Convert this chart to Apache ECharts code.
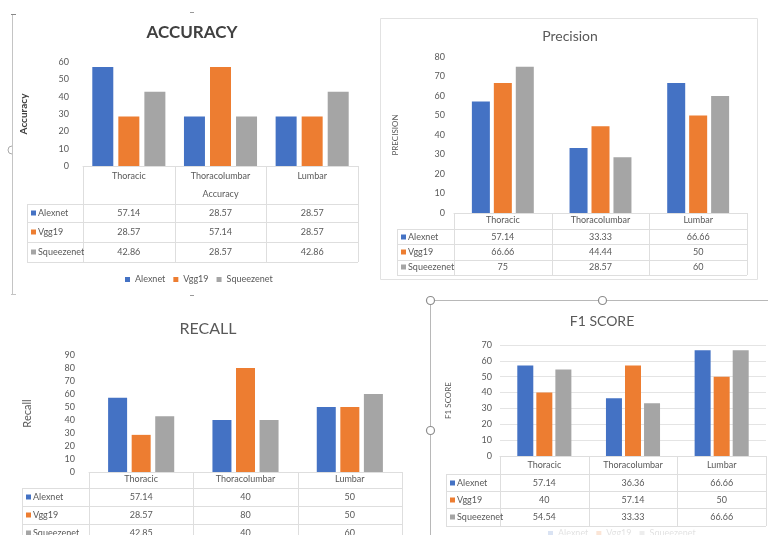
<!DOCTYPE html>
<html>
<head>
<meta charset="utf-8">
<title>Spine region classification metrics</title>
<script src="https://cdn.jsdelivr.net/npm/echarts@6/dist/echarts.min.js"></script>
<style>
  html, body { margin: 0; padding: 0; background: #ffffff; }
  #chart { width: 768px; height: 535px; }
</style>
</head>
<body>
<div id="chart"></div>
<script>
// ---- data ----
const categories = ['Thoracic', 'Thoracolumbar', 'Lumbar'];
const models = ['Alexnet', 'Vgg19', 'Squeezenet'];

const accuracyAlexnet = [57.14, 28.57, 28.57];
const accuracyVgg19 = [28.57, 57.14, 28.57];
const accuracySqueezenet = [42.86, 28.57, 42.86];

const precisionAlexnet = [57.14, 33.33, 66.66];
const precisionVgg19 = [66.66, 44.44, 50];
const precisionSqueezenet = [75, 28.57, 60];

const recallAlexnet = [57.14, 40, 50];
const recallVgg19 = [28.57, 80, 50];
const recallSqueezenet = [42.85, 40, 60];

const f1Alexnet = [57.14, 36.36, 66.66];
const f1Vgg19 = [40, 57.14, 50];
const f1Squeezenet = [54.54, 33.33, 66.66];

const accuracyTicks = [0, 60, 10];   // min, max, step
const precisionTicks = [0, 80, 10];
const recallTicks = [0, 90, 10];
const f1Ticks = [0, 70, 10];

// ---- styling ----
const FONT = 'Lato, "Open Sans", sans-serif';
const TEXT = '#595959';
const LINE = '#dedede';
const COLORS = ['#4472C4', '#ED7D31', '#A5A5A5'];
const SMALL = 9;

// panel layout: plot rectangle, table rows and axis styling
const panels = [
  {
    title: 'ACCURACY', titleX: 192, titleY: 33, titleSize: 17, titleWeight: 'bold', titleColor: '#404040',
    yName: 'Accuracy', yNameGap: 54, yNameWeight: 'bold', yNameColor: '#404040', yNameSize: 10,
    ticks: accuracyTicks, series: [accuracyAlexnet, accuracyVgg19, accuracySqueezenet],
    left: 83, top: 62, width: 275, height: 104,
    labelMargin: 14, catMargin: 6, barWidth: 21, barGap: '24%', split: false,
    xName: 'Accuracy', xNameGap: 24,
    headerBottom: 204, rowLines: [204, 222, 242, 262], rowCenters: [213, 232, 252],
    tableLeft: 27
  },
  {
    title: 'Precision', titleX: 570, titleY: 36, titleSize: 14, titleWeight: 'normal', titleColor: TEXT,
    yName: 'PRECISION', yNameGap: 55, yNameWeight: 'normal', yNameColor: TEXT, yNameSize: 8,
    ticks: precisionTicks, series: [precisionAlexnet, precisionVgg19, precisionSqueezenet],
    left: 454, top: 57, width: 293, height: 156,
    labelMargin: 9, catMargin: 3, barWidth: 18, barGap: '22%', split: false,
    xName: '', xNameGap: 0,
    headerBottom: 229, rowLines: [229, 244, 260, 275], rowCenters: [237, 252, 267],
    tableLeft: 397
  },
  {
    title: 'RECALL', titleX: 208, titleY: 329, titleSize: 16, titleWeight: 'normal', titleColor: TEXT,
    yName: 'Recall', yNameGap: 56, yNameWeight: 'normal', yNameColor: TEXT, yNameSize: 11,
    ticks: recallTicks, series: [recallAlexnet, recallVgg19, recallSqueezenet],
    left: 89, top: 355, width: 313, height: 117,
    labelMargin: 14, catMargin: 3, barWidth: 19, barGap: '24%', split: false,
    xName: '', xNameGap: 0,
    headerBottom: 488, rowLines: [488, 506, 524, 542], rowCenters: [497, 515, 533],
    tableLeft: 22
  },
  {
    title: 'F1 SCORE', titleX: 602, titleY: 321, titleSize: 14, titleWeight: 'normal', titleColor: TEXT,
    yName: 'F1 SCORE', yNameGap: 48, yNameWeight: 'normal', yNameColor: TEXT, yNameSize: 8,
    ticks: f1Ticks, series: [f1Alexnet, f1Vgg19, f1Squeezenet],
    left: 500, top: 345, width: 266, height: 111,
    labelMargin: 8, catMargin: 5, barWidth: 16, barGap: '19%', split: true,
    xName: '', xNameGap: 0,
    headerBottom: 474, rowLines: [474, 491, 508, 526], rowCenters: [483, 500, 517],
    tableLeft: 446
  }
];

const chart = echarts.init(document.getElementById('chart'), null, { renderer: 'canvas' });

const option = {
  animation: false,
  backgroundColor: '#ffffff',
  textStyle: { fontFamily: FONT },
  legend: [
    {
      data: models, left: 125, top: 275, itemWidth: 5, itemHeight: 5, itemGap: 8, padding: 0,
      icon: 'rect', selectedMode: false,
      textStyle: { fontSize: SMALL, color: TEXT, fontFamily: FONT }
    },
    {
      data: models, left: 548, top: 529, itemWidth: 5, itemHeight: 5, itemGap: 8, padding: 0,
      icon: 'rect', selectedMode: false,
      itemStyle: { opacity: 0.2 },
      textStyle: { fontSize: SMALL, color: 'rgba(89,89,89,0.18)', fontFamily: FONT }
    }
  ],
  grid: panels.map(P => ({ left: P.left, top: P.top, width: P.width, height: P.height, containLabel: false })),
  xAxis: panels.map((P, i) => ({
    type: 'category', gridIndex: i, data: categories,
    axisLine: { show: true, lineStyle: { color: LINE } },
    axisTick: { show: false },
    axisLabel: { interval: 0, margin: P.catMargin, fontSize: SMALL, color: TEXT, fontFamily: FONT },
    name: P.xName, nameLocation: 'middle', nameGap: P.xNameGap,
    nameTextStyle: { fontSize: SMALL, color: TEXT, fontFamily: FONT }
  })),
  yAxis: panels.map((P, i) => ({
    type: 'value', gridIndex: i, min: P.ticks[0], max: P.ticks[1], interval: P.ticks[2],
    axisLine: { show: false }, axisTick: { show: false },
    axisLabel: { margin: P.labelMargin, fontSize: SMALL, color: TEXT, fontFamily: FONT },
    splitLine: { show: P.split, lineStyle: { color: '#e4e4e4', width: 1 } },
    name: P.yName, nameLocation: 'middle', nameRotate: 90, nameGap: P.yNameGap,
    nameTextStyle: { fontSize: P.yNameSize, color: P.yNameColor, fontWeight: P.yNameWeight, fontFamily: FONT }
  })),
  series: []
};

panels.forEach((P, i) => {
  P.series.forEach((arr, m) => {
    option.series.push({
      type: 'bar', name: models[m], xAxisIndex: i, yAxisIndex: i, data: arr,
      barWidth: P.barWidth, barGap: P.barGap,
      itemStyle: { color: COLORS[m] }
    });
  });
});

chart.setOption(option);

// ---- titles, data tables and frame decorations ----
const elements = [];
const line = (x1, y1, x2, y2, color, w) => elements.push({
  type: 'line', silent: true,
  shape: { x1, y1, x2, y2 },
  style: { stroke: color || LINE, lineWidth: w || 1 }
});
const text = (x, y, str, st) => elements.push({
  type: 'text', silent: true, x, y,
  style: Object.assign({ text: str, fill: TEXT, font: SMALL + 'px ' + FONT, align: 'center', verticalAlign: 'middle' }, st || {})
});

panels.forEach((P, i) => {
  text(P.titleX, P.titleY, P.title, {
    fill: P.titleColor, font: P.titleWeight + ' ' + P.titleSize + 'px ' + FONT
  });

  const axisY = P.top + P.height;
  const cw = P.width / categories.length;
  const right = P.left + P.width;
  const bottom = P.rowLines[P.rowLines.length - 1];

  // header cells (category names sit on the x axis)
  for (let c = 0; c <= categories.length; c++) {
    const x = Math.round(P.left + c * cw) + 0.5;
    line(x, axisY, x, bottom);
  }
  // row lines and left edge of the row-label column
  P.rowLines.forEach(y => line(P.tableLeft, y + 0.5, right, y + 0.5));
  line(P.tableLeft + 0.5, P.headerBottom, P.tableLeft + 0.5, bottom);

  // row labels with legend keys and the values beneath each category
  P.series.forEach((arr, m) => {
    const cy = P.rowCenters[m];
    elements.push({
      type: 'rect', silent: true,
      shape: { x: P.tableLeft + 4, y: cy - 2.5, width: 5, height: 5 },
      style: { fill: COLORS[m] }
    });
    text(P.tableLeft + 11, cy, models[m], { align: 'left' });
    arr.forEach((v, c) => {
      const x = chart.convertToPixel({ xAxisIndex: i }, categories[c]);
      text(x, cy, String(v));
    });
  });
});

// outline of the accuracy panel
line(12.5, 14, 12.5, 294, '#c4c4c4');
line(11, 14.5, 16, 14.5, '#888');
line(11, 294.5, 16, 294.5, '#c4c4c4');
line(190, 12.5, 194, 12.5, '#999');
line(190, 295.5, 194, 295.5, '#999');
elements.push({
  type: 'arc', silent: true,
  shape: { cx: 12, cy: 150, r: 4, startAngle: Math.PI / 2, endAngle: Math.PI * 1.5 },
  style: { stroke: '#aaa', fill: null, lineWidth: 1 }
});

// outline of the precision panel
elements.push({
  type: 'rect', silent: true,
  shape: { x: 380.5, y: 18.5, width: 377, height: 261 },
  style: { stroke: '#e2e2e2', fill: null, lineWidth: 1 }
});

// selection frame around the F1 score panel
line(430, 300.5, 768, 300.5, '#b8b8b8');
line(430.5, 300, 430.5, 535, '#b8b8b8');
[[430.5, 300.5], [602.5, 300.5], [430.5, 430.5]].forEach(([cx, cy]) => elements.push({
  type: 'circle', silent: true,
  shape: { cx, cy, r: 4 },
  style: { fill: '#ffffff', stroke: '#8c8c8c', lineWidth: 1.2 }
}));

chart.setOption({ graphic: { elements } });
</script>
</body>
</html>
